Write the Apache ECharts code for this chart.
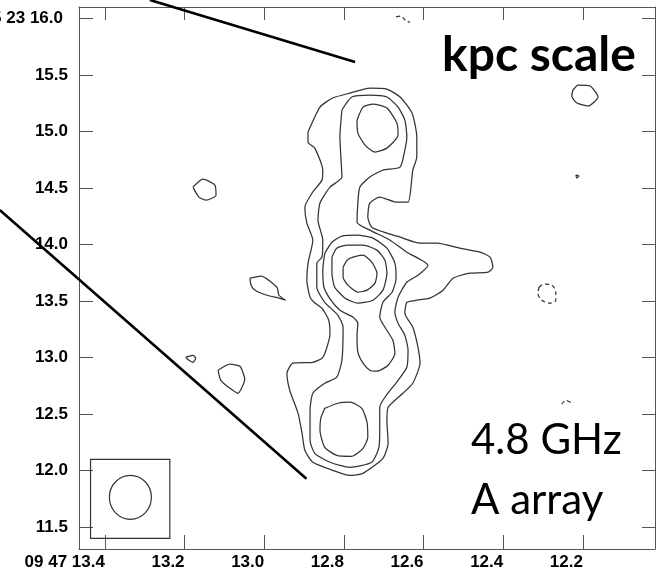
<!DOCTYPE html>
<html>
<head>
<meta charset="utf-8">
<script src="https://cdn.jsdelivr.net/npm/echarts@6/dist/echarts.min.js"></script>
<style>
  html, body { margin: 0; padding: 0; background: #fff; }
  #chart { width: 663px; height: 573px; }
</style>
</head>
<body>
<div id="chart"></div>
<script>
// Right ascension (seconds of 09h47m) and declination (arcsec of +05d23m)
const raTicks = [13.4, 13.2, 13.0, 12.8, 12.6, 12.4, 12.2];
const decTicks = [11.5, 12.0, 12.5, 13.0, 13.5, 14.0, 14.5, 15.0, 15.5, 16.0];
const raRange = [12.019, 13.465];
const decRange = [11.307, 16.1];

// Lowest positive contour: the whole source with its eastern arm
const contourOuter = [
  [12.890,14.994],[12.860,15.215],[12.828,15.295],[12.785,15.339],[12.735,15.383],
  [12.692,15.374],[12.659,15.304],[12.629,15.162],[12.617,14.950],[12.617,14.773],
  [12.627,14.658],[12.639,14.374],[12.667,14.374],[12.710,14.419],[12.735,14.366],
  [12.740,14.242],[12.730,14.153],[12.692,14.100],[12.659,14.065],[12.609,14.012],
  [12.566,14.012],[12.509,13.967],[12.459,13.932],[12.433,13.888],[12.426,13.799],
  [12.438,13.755],[12.484,13.746],[12.526,13.702],[12.551,13.596],[12.584,13.525],
  [12.617,13.507],[12.642,13.489],[12.647,13.392],[12.627,13.268],[12.614,13.091],
  [12.609,12.950],[12.627,12.773],[12.652,12.684],[12.689,12.560],[12.692,12.445],
  [12.689,12.242],[12.702,12.109],[12.752,11.976],[12.785,11.958],[12.828,12.003],
  [12.878,12.074],[12.898,12.180],[12.905,12.330],[12.915,12.507],[12.936,12.711],
  [12.943,12.861],[12.928,12.950],[12.878,12.958],[12.855,12.994],[12.845,13.065],
  [12.835,13.206],[12.838,13.330],[12.855,13.436],[12.875,13.489],[12.885,13.534],
  [12.893,13.684],[12.890,13.835],[12.878,14.038],[12.893,14.189],[12.898,14.330],
  [12.880,14.454],[12.855,14.569],[12.853,14.658],[12.873,14.852],[12.890,14.905]
];

// Second contour: north lobe, neck, core and south lobe
const contourSecond = [
  [12.805,15.189],[12.780,15.304],[12.735,15.321],[12.692,15.304],[12.664,15.215],
  [12.647,15.100],[12.642,14.950],[12.647,14.835],[12.659,14.684],[12.702,14.658],
  [12.735,14.596],[12.760,14.507],[12.765,14.366],[12.767,14.197],[12.735,14.127],
  [12.684,14.038],[12.642,13.932],[12.589,13.817],[12.614,13.728],[12.642,13.666],
  [12.664,13.534],[12.672,13.401],[12.664,13.304],[12.647,13.197],[12.639,13.065],
  [12.642,12.914],[12.664,12.799],[12.697,12.649],[12.710,12.560],[12.710,12.383],
  [12.712,12.206],[12.730,12.074],[12.785,12.029],[12.835,12.074],[12.873,12.153],
  [12.885,12.268],[12.885,12.534],[12.878,12.684],[12.848,12.773],[12.818,12.826],
  [12.805,12.976],[12.802,13.268],[12.815,13.374],[12.848,13.489],[12.868,13.622],
  [12.868,13.835],[12.855,13.888],[12.853,14.038],[12.865,14.215],[12.860,14.366],
  [12.835,14.507],[12.805,14.596],[12.810,14.950]
];

// Third contour around the northern knot
const knotNorth = [
  [12.767,15.100],[12.752,15.215],[12.727,15.242],[12.692,15.206],[12.667,15.074],
  [12.664,14.967],[12.692,14.852],[12.722,14.817],[12.747,14.879],[12.765,14.985]
];

// Core: third contour with its southward tongue, then two inner rings
const coreThird = [
  [12.848,13.923],[12.830,14.020],[12.805,14.074],[12.767,14.082],[12.727,14.056],
  [12.692,13.967],[12.672,13.835],[12.669,13.702],[12.679,13.578],[12.702,13.489],
  [12.710,13.357],[12.697,13.268],[12.677,13.153],[12.672,13.038],[12.689,12.932],
  [12.717,12.879],[12.735,12.888],[12.752,12.950],[12.765,13.047],[12.767,13.197],
  [12.765,13.304],[12.777,13.357],[12.810,13.419],[12.833,13.510],[12.850,13.622],
  [12.853,13.773]
];
const coreFourth = [
  [12.830,13.888],[12.818,13.967],[12.790,13.994],[12.752,13.994],[12.717,13.950],
  [12.697,13.861],[12.692,13.746],[12.702,13.596],[12.727,13.507],[12.765,13.481],
  [12.797,13.525],[12.823,13.622],[12.830,13.746]
];
const coreFifth = [
  [12.802,13.799],[12.792,13.861],[12.777,13.888],[12.752,13.905],[12.730,13.843],
  [12.717,13.746],[12.722,13.658],[12.742,13.596],[12.765,13.578],[12.790,13.640],
  [12.802,13.711]
];

// Third contour around the southern knot
const knotSouth = [
  [12.848,12.551],[12.815,12.596],[12.785,12.605],[12.755,12.551],[12.742,12.428],
  [12.740,12.295],[12.752,12.197],[12.780,12.127],[12.818,12.135],[12.848,12.206],
  [12.860,12.357],[12.858,12.463]
];

// Isolated low-level islands
const islandA = [[13.179,14.507],[13.154,14.578],[13.124,14.525],[13.121,14.436],[13.146,14.392],[13.164,14.419]];
const islandB = [[13.036,13.702],[13.008,13.720],[12.968,13.622],[12.963,13.551],[12.946,13.507],[12.963,13.525],[12.993,13.551],[13.023,13.596],[13.033,13.640]];
const islandC = [[13.197,13.003],[13.179,13.020],[13.172,12.994],[13.179,12.958],[13.189,12.976]];
const islandD = [[13.116,12.888],[13.086,12.941],[13.061,12.923],[13.049,12.808],[13.066,12.684],[13.086,12.728],[13.109,12.799]];
const islandE = [[12.225,15.366],[12.212,15.410],[12.182,15.401],[12.162,15.304],[12.187,15.224],[12.215,15.251],[12.228,15.312]];
const islandF = [[12.218,14.613],[12.210,14.605],[12.215,14.587]];

// Negative contours (dashed)
const negativeLoop = [[12.310,13.622],[12.298,13.649],[12.278,13.640],[12.268,13.578],[12.268,13.507],[12.283,13.481],[12.303,13.507],[12.313,13.569]];
const negativeArcSouth = [[12.253,12.587],[12.243,12.622],[12.228,12.596]];
const negativeArcTop = [[12.669,16.012],[12.657,16.020],[12.644,15.976],[12.634,15.967]];

// Restoring beam: centre RA, centre Dec, RA semi-axis (s), Dec semi-axis (arcsec)
const beamEllipse = [13.336, 11.764, 0.0527, 0.1947];
// Beam frame corners: [RA, Dec] of the two opposite corners
const beamBox = [13.436, 12.100, 13.237, 11.401];

// Pointer lines toward the larger-scale panels: [RA1, Dec1, RA2, Dec2]
const pointerLines = [
  [13.287, 16.162, 12.772, 15.613],
  [13.664, 14.304, 12.894, 11.929]
];

const closed = arr => arr.concat([arr[0]]);

const solidContours = [
  contourOuter, contourSecond, knotNorth, coreThird, coreFourth, coreFifth, knotSouth,
  islandA, islandB, islandC, islandD, islandE, islandF
];

const lineColor = '#333';
const tickColor = '#555';
const labelFont = { fontFamily: 'Liberation Sans', fontWeight: 'bold', fontSize: 17, color: '#000' };

const series = [];
solidContours.forEach(c => series.push({
  type: 'line', data: closed(c), showSymbol: false, symbol: 'none', smooth: 0.2,
  lineStyle: { color: lineColor, width: 1.25 }, silent: true, z: 2
}));
series.push({
  type: 'line', data: closed(negativeLoop), symbol: 'none', smooth: 0.3,
  lineStyle: { color: lineColor, width: 1.2, type: [4, 3] }, silent: true, z: 2
});
[negativeArcSouth, negativeArcTop].forEach(c => series.push({
  type: 'line', data: c, symbol: 'none', smooth: 0.3,
  lineStyle: { color: lineColor, width: 1.2, type: [4, 3] }, silent: true, z: 2
}));
series.push({
  type: 'custom', silent: true, z: 10, clip: false,
  data: pointerLines,
  renderItem: (params, api) => {
    const a = api.coord([api.value(0), api.value(1)]);
    const b = api.coord([api.value(2), api.value(3)]);
    return {
      type: 'line',
      shape: { x1: a[0], y1: a[1], x2: b[0], y2: b[1] },
      style: { stroke: '#000', lineWidth: 2.6, fill: 'none' }
    };
  }
});
series.push({
  type: 'custom', silent: true, z: 3, clip: false,
  data: [beamEllipse],
  renderItem: (params, api) => {
    const c = api.coord([api.value(0), api.value(1)]);
    const s = api.size([api.value(2), api.value(3)]);
    return {
      type: 'ellipse',
      shape: { cx: c[0], cy: c[1], rx: s[0], ry: s[1] },
      style: { fill: 'none', stroke: lineColor, lineWidth: 1.2 }
    };
  }
});
series.push({
  type: 'custom', silent: true, z: 3, clip: false,
  data: [beamBox],
  renderItem: (params, api) => {
    const p1 = api.coord([api.value(0), api.value(1)]);
    const p2 = api.coord([api.value(2), api.value(3)]);
    return {
      type: 'rect',
      shape: {
        x: Math.min(p1[0], p2[0]), y: Math.min(p1[1], p2[1]),
        width: Math.abs(p2[0] - p1[0]), height: Math.abs(p2[1] - p1[1])
      },
      style: { fill: 'none', stroke: lineColor, lineWidth: 1.2 }
    };
  }
});

const axisLineStyle = { show: true, onZero: false, lineStyle: { color: tickColor, width: 1 } };

const option = {
  animation: false,
  backgroundColor: '#fff',
  grid: { left: 79, top: 7, right: 8, bottom: 24, containLabel: false, outerBoundsMode: 'none' },
  xAxis: [
    {
      type: 'value', position: 'bottom', inverse: true,
      min: raRange[0], max: raRange[1],
      axisLine: axisLineStyle,
      axisTick: { show: true, inside: true, length: 14, customValues: raTicks, lineStyle: { color: tickColor } },
      axisLabel: Object.assign({
        customValues: raTicks, align: 'right', margin: 5, hideOverlap: false,
        formatter: v => (v === 13.4 ? '09 47 13.4' : '{s|' + v.toFixed(1) + '}'),
        rich: { s: Object.assign({ padding: [0, 0, 0, 0], align: 'right' }, labelFont) }
      }, labelFont),
      splitLine: { show: false }
    },
    {
      type: 'value', position: 'top', inverse: true,
      min: raRange[0], max: raRange[1],
      axisLine: axisLineStyle,
      axisTick: { show: true, inside: true, length: 13, customValues: raTicks, lineStyle: { color: tickColor } },
      axisLabel: { show: false },
      splitLine: { show: false }
    }
  ],
  yAxis: [
    {
      type: 'value', position: 'left',
      min: decRange[0], max: decRange[1],
      axisLine: axisLineStyle,
      axisTick: { show: true, inside: true, length: 14, customValues: decTicks, lineStyle: { color: tickColor } },
      axisLabel: Object.assign({
        customValues: decTicks, margin: 11, hideOverlap: false,
        formatter: v => (v === 16 ? '{first|05 23 16.0}' : v.toFixed(1)),
        rich: { first: Object.assign({ padding: [0, 5, 0, 0] }, labelFont) }
      }, labelFont),
      splitLine: { show: false }
    },
    {
      type: 'value', position: 'right',
      min: decRange[0], max: decRange[1],
      axisLine: axisLineStyle,
      axisTick: { show: true, inside: true, length: 13, customValues: decTicks, lineStyle: { color: tickColor } },
      axisLabel: { show: false },
      splitLine: { show: false }
    }
  ],
  graphic: [
    { type: 'text', z: 20, style: { text: 'kpc scale', x: 442, y: 56, textVerticalAlign: 'middle', font: 'bold 48px Lato', fill: '#000' } },
    { type: 'text', z: 20, style: { text: '4.8 GHz', x: 471, y: 440, textVerticalAlign: 'middle', font: '42px Lato', fill: '#000' } },
    { type: 'text', z: 20, style: { text: 'A array', x: 471, y: 500, textVerticalAlign: 'middle', font: '42px Lato', fill: '#000' } }
  ],
  series: series
};

const chart = echarts.init(document.getElementById('chart'), null, { renderer: 'canvas' });
chart.setOption(option);
</script>
</body>
</html>
